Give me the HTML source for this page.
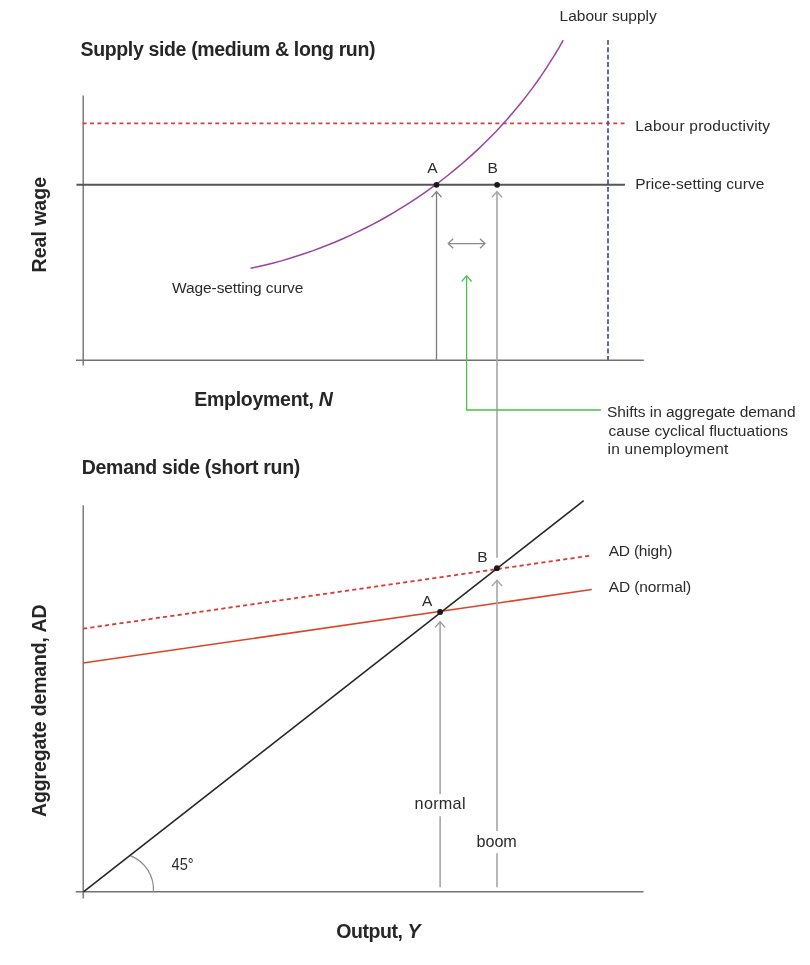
<!DOCTYPE html>
<html><head><meta charset="utf-8"><title>Supply side and demand side</title>
<style>
html,body{margin:0;padding:0;background:#fff;}
body{width:810px;height:965px;overflow:hidden;}
svg{display:block;filter:blur(0.35px);}
text{font-family:"Liberation Sans",Arial,sans-serif;fill:#2b2b2b;}
.lb{font-size:15.5px;}
.tt{font-size:19.5px;font-weight:bold;fill:#262626;}
</style></head>
<body>
<svg width="810" height="965" viewBox="0 0 810 965">
<g fill="none" stroke-linecap="butt">
<!-- ===== Top chart ===== -->
<!-- axes -->
<line x1="83.2" y1="95.4" x2="83.2" y2="365.5" stroke="#727272" stroke-width="1.4"/>
<line x1="76" y1="360.3" x2="643.8" y2="360.3" stroke="#727272" stroke-width="1.4"/>
<!-- labour productivity -->
<line x1="82.6" y1="123.4" x2="624.5" y2="123.4" stroke="#dc3c44" stroke-width="1.6" stroke-dasharray="4 3.37"/>
<!-- labour supply -->
<line x1="608" y1="40" x2="608" y2="360.3" stroke="#52579c" stroke-width="1.8" stroke-dasharray="4.85 2.497"/>
<!-- grey arrows -->
<line x1="436.5" y1="191.8" x2="436.5" y2="360.3" stroke="#7c7c7c" stroke-width="1.3"/>
<polyline points="431.5,197.3 436.5,191.6 441.5,197.3" stroke="#888" stroke-width="1.4"/>
<line x1="497" y1="191.8" x2="497" y2="557.7" stroke="#a5a5a5" stroke-width="1.6"/>
<polyline points="492,197.3 497,191.6 502,197.3" stroke="#a5a5a5" stroke-width="1.4"/>
<!-- double arrow -->
<line x1="448.2" y1="243.5" x2="485" y2="243.5" stroke="#8a8a8a" stroke-width="1.25"/>
<polyline points="453.2,238.7 448.2,243.5 453.2,248.3" stroke="#8a8a8a" stroke-width="1.25"/>
<polyline points="480,238.7 485,243.5 480,248.3" stroke="#8a8a8a" stroke-width="1.25"/>
<!-- green annotation -->
<polyline points="466.6,276.2 466.6,410 601,410" stroke="#4cc04c" stroke-width="1.3"/>
<polyline points="461.6,281.5 466.6,275.9 471.6,281.5" stroke="#4cc04c" stroke-width="1.3"/>
<!-- price-setting curve -->
<line x1="76.5" y1="184.7" x2="625" y2="184.7" stroke="#555" stroke-width="2"/>
<!-- wage-setting curve -->
<path d="M250.6,268.3 L258.6,266.6 L266.5,264.7 L274.4,262.7 L282.2,260.6 L290.0,258.3 L297.8,255.8 L305.5,253.3 L313.2,250.6 L320.8,247.7 L328.4,244.8 L335.9,241.7 L343.4,238.5 L350.8,235.1 L358.2,231.6 L365.5,228.0 L372.7,224.3 L379.9,220.5 L387.0,216.5 L394.1,212.4 L401.0,208.2 L407.9,203.9 L414.8,199.4 L421.5,194.9 L428.2,190.2 L434.8,185.4 L441.3,180.5 L447.7,175.5 L454.0,170.4 L460.3,165.2 L466.4,159.9 L472.5,154.4 L478.5,148.9 L484.3,143.3 L490.1,137.5 L495.8,131.7 L501.3,125.7 L506.8,119.7 L512.1,113.6 L517.4,107.3 L522.5,101.0 L527.5,94.6 L532.4,88.1 L537.2,81.5 L541.8,74.8 L546.3,68.1 L550.7,61.2 L555.0,54.3 L559.2,47.3 L563.2,40.2" stroke="#9b43a0" stroke-width="1.5" stroke-linejoin="round"/>
<!-- ===== Bottom chart ===== -->
<line x1="83.2" y1="505.2" x2="83.2" y2="898.4" stroke="#727272" stroke-width="1.4"/>
<line x1="75.7" y1="891.8" x2="643.5" y2="891.8" stroke="#727272" stroke-width="1.4"/>
<!-- 45 deg arc -->
<path d="M130.6,855.9 A36,36 0 0 1 153.4,891.8" stroke="#8c8c8c" stroke-width="1.2"/>
<!-- AD lines -->
<line x1="83" y1="663" x2="591.8" y2="589.5" stroke="#dc4428" stroke-width="1.6"/>
<line x1="83" y1="628.7" x2="590" y2="555.7" stroke="#d83c34" stroke-width="1.8" stroke-dasharray="4.2 3.15"/>
<!-- 45 line -->
<line x1="83.4" y1="891.8" x2="583.7" y2="500.7" stroke="#262626" stroke-width="1.6"/>
<!-- arrows in lower chart -->
<line x1="440.1" y1="622" x2="440.1" y2="794" stroke="#999" stroke-width="1.4"/>
<line x1="440.1" y1="816.3" x2="440.1" y2="887.3" stroke="#999" stroke-width="1.4"/>
<polyline points="435.1,627.4 440.1,621.8 445.1,627.4" stroke="#999" stroke-width="1.4"/>
<line x1="497" y1="580.6" x2="497" y2="831.1" stroke="#a5a5a5" stroke-width="1.6"/>
<line x1="497" y1="853.3" x2="497" y2="887.3" stroke="#a5a5a5" stroke-width="1.6"/>
<polyline points="492,586 497,580.4 502,586" stroke="#a5a5a5" stroke-width="1.4"/>
</g>
<!-- dots -->
<g fill="#1a1a1a">
<circle cx="436.5" cy="184.8" r="2.9"/>
<circle cx="497.1" cy="184.8" r="2.9"/>
<circle cx="440.1" cy="612" r="2.9"/>
<circle cx="496.9" cy="568.2" r="2.9"/>
</g>
<!-- ===== Text ===== -->
<text class="lb" x="559.60" y="20.5" textLength="97.10" lengthAdjust="spacing">Labour supply</text>
<text class="tt" x="80.50" y="56.3" textLength="295.00" lengthAdjust="spacing">Supply side (medium &amp; long run)</text>
<text class="lb" x="635.20" y="131.1" textLength="134.90" lengthAdjust="spacing">Labour productivity</text>
<text class="lb" x="635.20" y="189" textLength="129.20" lengthAdjust="spacing">Price-setting curve</text>
<text class="lb" x="427.20" y="172.8">A</text>
<text class="lb" x="487.60" y="172.8">B</text>
<text class="tt" transform="translate(46.2,272.40) rotate(-90)" x="0" y="0" textLength="95.40" lengthAdjust="spacing">Real wage</text>
<text class="lb" x="172.10" y="293.3" textLength="131.20" lengthAdjust="spacing">Wage-setting curve</text>
<text class="tt" x="194.20" y="406.1" textLength="138.70" lengthAdjust="spacing">Employment, <tspan font-style="italic">N</tspan></text>
<text class="lb" x="607.00" y="416.8" textLength="188.50" lengthAdjust="spacing">Shifts in aggregate demand</text>
<text class="lb" x="608.50" y="435.5" textLength="179.60" lengthAdjust="spacing">cause cyclical fluctuations</text>
<text class="lb" x="607.50" y="453.8" textLength="120.90" lengthAdjust="spacing">in unemployment</text>
<text class="tt" x="81.80" y="473.9" textLength="218.50" lengthAdjust="spacing">Demand side (short run)</text>
<text class="lb" x="608.70" y="556.2" textLength="63.80" lengthAdjust="spacing">AD (high)</text>
<text class="lb" x="608.70" y="591.5" textLength="82.50" lengthAdjust="spacing">AD (normal)</text>
<text class="lb" x="422.10" y="605.6">A</text>
<text class="lb" x="477.30" y="561.7">B</text>
<text class="tt" transform="translate(45.7,816.90) rotate(-90)" x="0" y="0" textLength="212.40" lengthAdjust="spacing">Aggregate demand, AD</text>
<text class="lb" style="font-size:16px" x="171.50" y="869.7" textLength="22.10" lengthAdjust="spacingAndGlyphs">45°</text>
<text class="lb" style="font-size:16.2px" x="414.60" y="808.9" textLength="50.90" lengthAdjust="spacing">normal</text>
<text class="lb" style="font-size:16.2px" x="476.50" y="846.7" textLength="40.30" lengthAdjust="spacing">boom</text>
<text class="tt" x="336.20" y="937.9" textLength="84.30" lengthAdjust="spacing">Output, <tspan font-style="italic">Y</tspan></text>
</svg>
</body></html>
